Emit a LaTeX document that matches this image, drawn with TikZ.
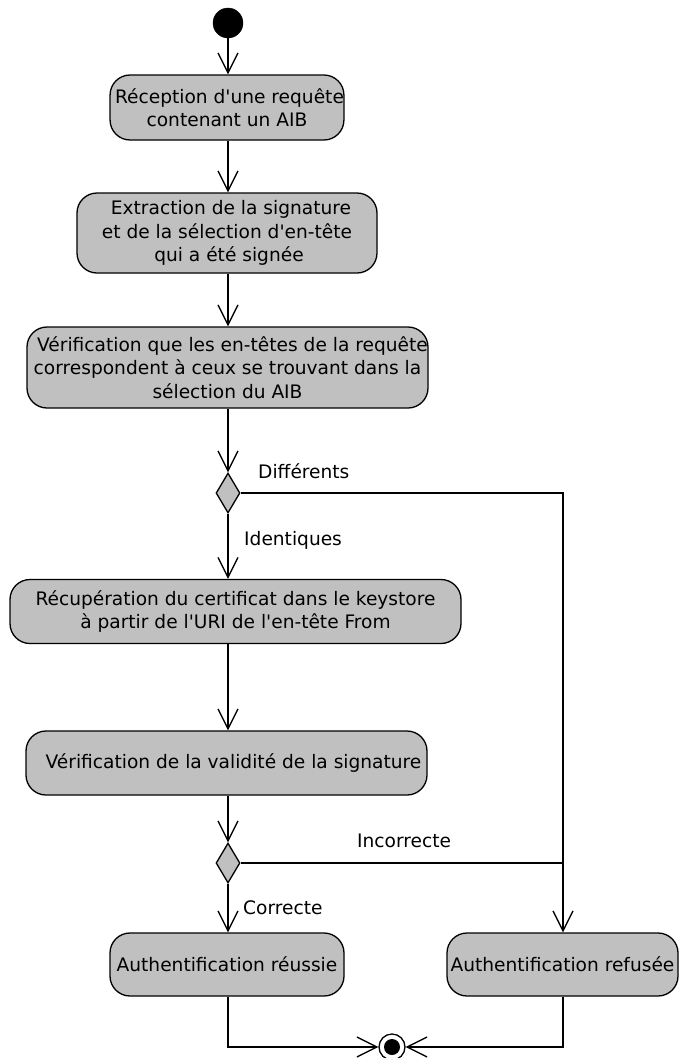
\documentclass[tikz,border=0pt]{standalone}
\usepackage{fontspec}
\setmainfont{DejaVu Sans}
\newfontfamily\dvq{DejaVu Sans}
\newcommand{\apos}{{\dvq\symbol{39}}}
\usetikzlibrary{arrows.meta,shapes.geometric,calc}
\definecolor{boxgray}{RGB}{192,192,192}
\tikzset{
  act/.style={draw=black, fill=boxgray, rounded corners=20pt, line width=1.3pt,
    inner sep=0pt, align=center, font=\fontsize{18.6}{23.3}\selectfont},
  dec/.style={draw=black, fill=boxgray, diamond, line width=1.3pt, inner sep=0pt,
    minimum width=24pt, minimum height=40pt, aspect=0.6},
  flow/.style={line width=1.3pt, -{Straight Barb[length=20pt,width=20pt,line width=1.3pt]}},
  plain/.style={line width=1.3pt},
  lbl/.style={anchor=base west, inner sep=0pt, font=\fontsize{18.6}{23.3}\selectfont},
}
\begin{document}
\begin{tikzpicture}[x=1pt,y=-1pt]
\useasboundingbox (0,0) rectangle (679,1058);
\node[circle, fill=black, draw=black, minimum size=30pt, inner sep=0pt] (start) at (228,23) {};
\node[act, minimum width=233pt, minimum height=65pt] (b1) at (227,107.5) {\hspace*{5pt}Réception d\apos une requête\\contenant un AIB};
\node[act, minimum width=300pt, minimum height=80pt] (b2) at (227,233) {\hspace*{8pt}Extraction de la signature\\et de la sélection d\apos en-tête\\\hspace*{4pt}qui a été signée};
\node[act, minimum width=401pt, minimum height=81pt] (b3) at (227.5,367.5) {\hspace*{10pt}Vérification que les en-têtes de la requête\\correspondent à ceux se trouvant dans la\\sélection du AIB};
\node[dec] (d1) at (228,493) {};
\node[act, minimum width=451pt, minimum height=64pt] (b4) at (235.5,611.5) {Récupération du certificat dans le keystore\\à partir de l\apos URI de l\apos en-tête From};
\node[act, minimum width=401pt, minimum height=64pt] (b5) at (226.5,763) {\hspace*{14pt}Vérification de la validité de la signature};
\node[dec] (d2) at (228,863) {};
\node[act, minimum width=234pt, minimum height=63pt] (b6) at (227,964.5) {Authentification réussie};
\node[act, minimum width=231pt, minimum height=63pt] (b7) at (562.5,964.5) {Authentification refusée};
\node[circle, draw=black, fill=white, line width=1.3pt, minimum size=26pt, inner sep=0pt] (end) at (392,1047) {};
\node[circle, fill=black, minimum size=16pt, inner sep=0pt] (endin) at (end) {};
\coordinate (c1) at (563,493);
\coordinate (c2) at (563,863);
\coordinate (c3) at (228,1047);
\coordinate (c4) at (563,1047);
% flows
\draw[flow] (start.south) -- (start.south |- b1.north);
\draw[flow] (b1.south -| start) -- (start |- b2.north);
\draw[flow] (b2.south -| start) -- (start |- b3.north);
\draw[flow] (b3.south -| d1) -- (d1.north);
\draw[flow] (d1.south) -- (d1.south |- b4.north);
\draw[flow] (b4.south -| d1) -- (d1 |- b5.north);
\draw[flow] (b5.south -| d2) -- (d2.north);
\draw[flow] (d2.south) -- (d2.south |- b6.north);
\draw[flow] (d1.east) -- (c1) -- (c1 |- b7.north);
\draw[plain] (d2.east) -- (c2);
\draw[flow] (b6.south -| c3) -- (c3) -- (end.west);
\draw[flow] (b7.south -| c4) -- (c4) -- (end.east);
% labels
\node[lbl] (l1) at (258,478) {Différents};
\node[lbl] (l2) at (244,545) {Identiques};
\node[lbl] (l3) at (357,847) {Incorrecte};
\node[lbl] (l4) at (243,914) {Correcte};
\end{tikzpicture}
\end{document}
